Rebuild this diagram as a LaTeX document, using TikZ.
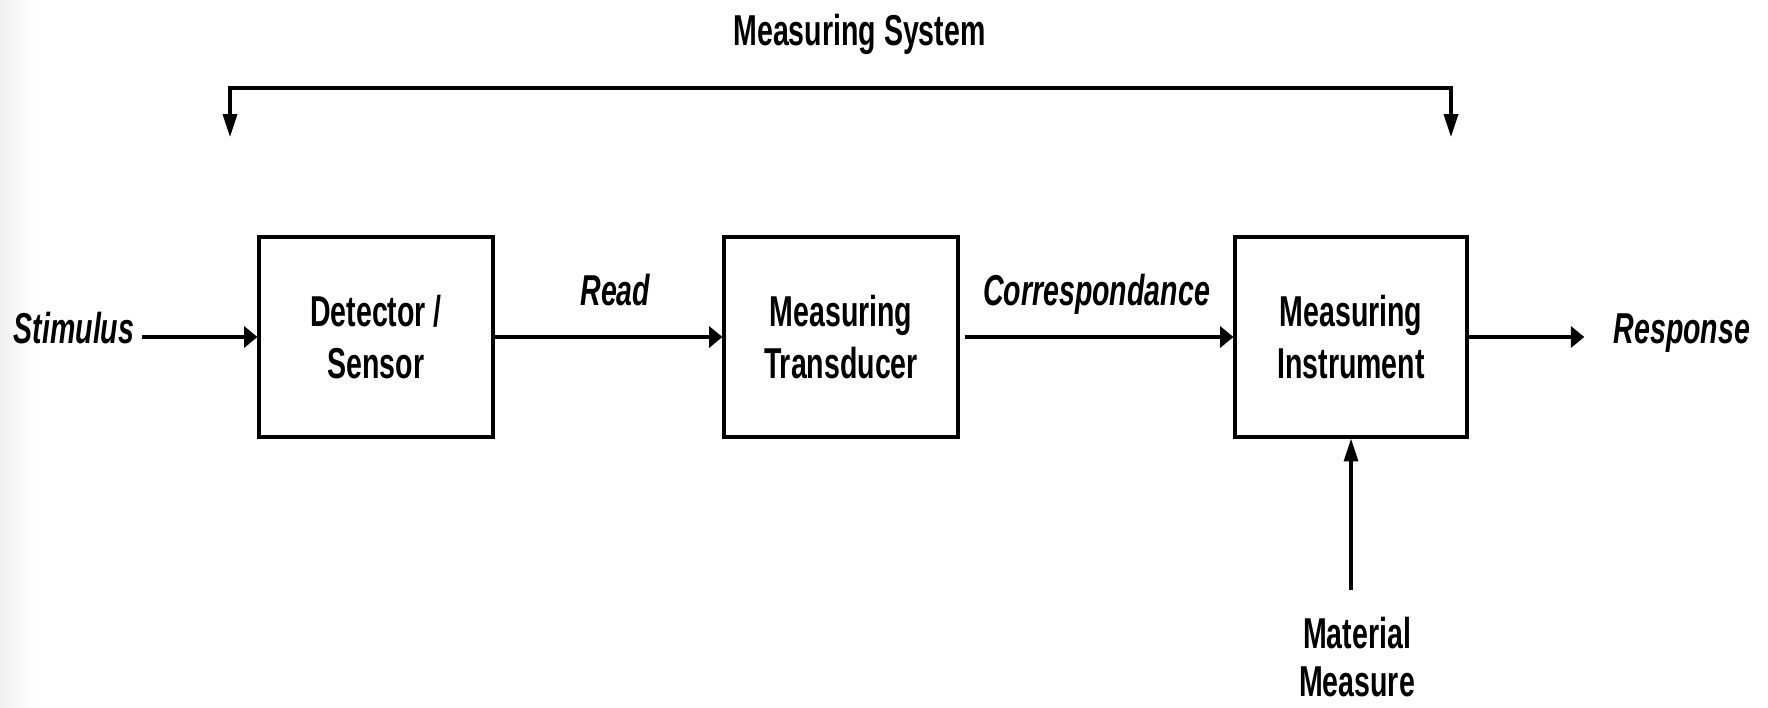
\documentclass[tikz,border=0pt]{standalone}
\usepackage{fontspec}
\setmainfont{Liberation Sans}[FakeStretch=0.66]
\usetikzlibrary{arrows.meta,positioning}

\begin{document}
\begin{tikzpicture}[
    unit/.style={rectangle, draw, line width=0.9pt, minimum width=2.34cm, minimum height=2cm,
                 align=center, font=\fontsize{12.3}{14.8}\selectfont\bfseries},
    sig/.style={inner sep=2pt, font=\fontsize{12.3}{14.8}\selectfont\bfseries\itshape},
    ttl/.style={inner sep=2pt, align=center, font=\fontsize{12.3}{13.8}\selectfont\bfseries},
    harr/.style={-{Triangle[length=3.8pt, width=6pt]}, line width=0.9pt},
    varr/.style={-{Triangle[length=6.5pt, width=4pt]}, line width=0.9pt},
    sysarr/.style={>={Triangle[length=6.5pt, width=4pt]}, <->, line width=0.9pt}
]
\useasboundingbox (0,0) rectangle (17.68,-7.08);
\fill[left color=black!6, right color=white] (0,0) rectangle (0.35,-7.08);

\node[unit] (det) at (3.76,-3.37) {Detector /\\Sensor};
\node[unit] (trans) at (8.41,-3.37) {Measuring\\Transducer};
\node[unit, minimum width=2.32cm] (inst) at (13.51,-3.37) {Measuring\\Instrument};

\node[sig, anchor=base east] (stim) at (1.42,-3.44) {Stimulus};
\node[sig, anchor=base west] (resp) at (16.06,-3.44) {Response};
\node[ttl, anchor=north] (mat) at (13.57,-6.09) {Material\\Measure};
\node[ttl, anchor=base] (sys) at (8.595,-0.46) {Measuring System};

\coordinate (tipL) at (2.30,-1.37);
\coordinate (tipR) at (14.51,-1.37);
\coordinate (bar) at (8.40,-0.88);

\draw[harr] (stim.east |- det) -- (det.west);
\draw[harr] (det) -- node[sig, anchor=base, pos=0.53, yshift=9pt] {Read} (trans);
\draw[harr, shorten <=1.5pt] (trans) -- node[sig, anchor=base, yshift=9pt] {Correspondance} (inst);
\draw[harr, shorten >=6.2pt] (inst) -- (inst -| resp.west);
\draw[varr, shorten <=5.5pt] (mat.north -| inst) -- (inst);
\draw[sysarr] (tipL) |- (bar) -| (tipR);
\end{tikzpicture}
\end{document}
